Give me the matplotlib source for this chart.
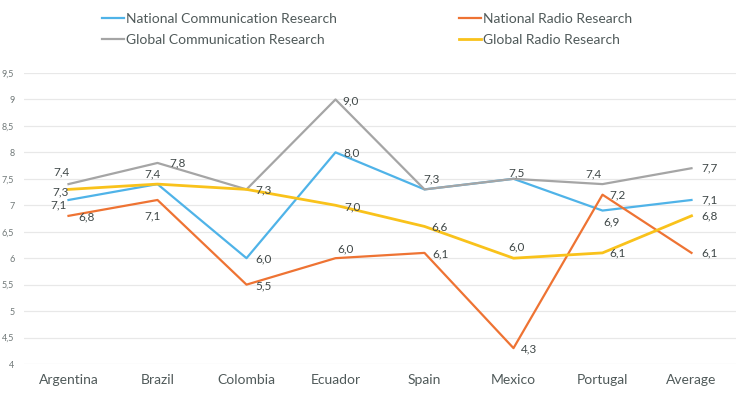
import matplotlib
matplotlib.use("Agg")
import matplotlib.pyplot as plt

plt.rcParams['font.family'] = ['Lato', 'DejaVu Sans']

# Datos
countries = ["Argentina", "Brazil", "Colombia", "Ecuador", "Spain", "Mexico", "Portugal", "Average"]
national_comm = [7.1, 7.4, 6.0, 8.0, 7.3, 7.5, 6.9, 7.1]
global_comm = [7.4, 7.8, 7.3, 9.0, 7.3, 7.5, 7.4, 7.7]
national_radio = [6.8, 7.1, 5.5, 6.0, 6.1, 4.3, 7.2, 6.1]
global_radio = [7.3, 7.4, 7.3, 7.0, 6.6, 6.0, 6.1, 6.8]
y_ticks = [4, 4.5, 5, 5.5, 6, 6.5, 7, 7.5, 8, 8.5, 9, 9.5]

# posicion de etiquetas (dx, dy en pixeles), None = sin etiqueta
off_nc = [(-10, -5), None, (17, -1), (16, -1), None, None, (9, -11), (18, 0)]
off_gc = [(-7, 12), (20, 0), (17, -1), (15, -1), (7, 10), (3, 6), (-9, 10), (18, 0)]
off_nr = [(18, -1), (-5, -16), (17, -1), (10, 9), (16, -1), (16, -1), (15, 0), (18, 0)]
off_gr = [(-8, -3), (-5, 10), None, (17, -2), (15, 0), (3, 11), (15, 0), (18, 0)]

colors = {'nc': '#4FB3E8', 'gc': '#A5A5A5', 'nr': '#EE7333', 'gr': '#F9C21B'}
text_color = '#505A5A'

fig = plt.figure(figsize=(7.49, 3.97), dpi=100)
ax = fig.add_axes([24 / 749, 33 / 397, 712 / 749, 291 / 397])

x = list(range(len(countries)))
l1, = ax.plot(x, national_comm, color=colors['nc'], lw=1.6, label="National Communication Research")
l2, = ax.plot(x, global_comm, color=colors['gc'], lw=1.6, label="Global Communication Research")
l3, = ax.plot(x, national_radio, color=colors['nr'], lw=1.6, label="National Radio Research")
l4, = ax.plot(x, global_radio, color=colors['gr'], lw=2.0, label="Global Radio Research")

def etiquetar(values, offsets):
    for i, v in enumerate(values):
        off = offsets[i]
        if off is None:
            continue
        ax.annotate(f"{v:.1f}".replace('.', ','), (i, v),
                    xytext=(off[0] * 0.72, off[1] * 0.72), textcoords='offset points',
                    ha='center', va='center', fontsize=8.5, color='#404848')

etiquetar(national_comm, off_nc)
etiquetar(global_comm, off_gc)
etiquetar(national_radio, off_nr)
etiquetar(global_radio, off_gr)

ax.set_xlim(-0.5, len(countries) - 0.5)
ax.set_ylim(4, 9.5)
ax.set_yticks(y_ticks)
ax.set_yticklabels([f"{t:g}".replace('.', ',') for t in y_ticks])
ax.set_xticks(x)
ax.set_xticklabels(countries)
ax.tick_params(axis='y', length=0, labelsize=6.5, labelcolor='#707878', pad=7)
ax.tick_params(axis='x', length=0, labelsize=10, labelcolor=text_color, pad=7)
ax.yaxis.grid(True, color='#E8E8E8', lw=0.9)
ax.set_axisbelow(True)
for s in ax.spines.values():
    s.set_visible(False)

leg1 = fig.legend(handles=[l1, l2], loc='upper left', bbox_to_anchor=(89 / 749, 1.0),
                  frameon=False, fontsize=10, handlelength=1.65, handletextpad=0.1,
                  labelspacing=0.65, labelcolor=text_color)
leg2 = fig.legend(handles=[l3, l4], loc='upper left', bbox_to_anchor=(446 / 749, 1.0),
                  frameon=False, fontsize=10, handlelength=1.65, handletextpad=0.1,
                  labelspacing=0.65, labelcolor=text_color)

fig.savefig("out.png", dpi=100)
